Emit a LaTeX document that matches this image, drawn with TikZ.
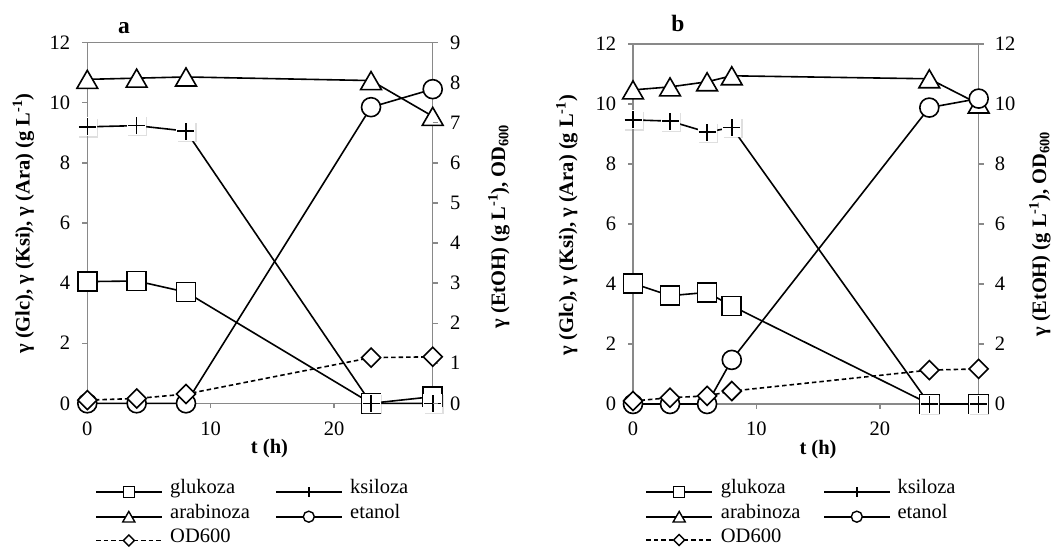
\documentclass[tikz,border=0pt]{standalone}
\usepackage{fontspec}
\setmainfont{Liberation Serif}
\usetikzlibrary{shapes.geometric,shadows}
\definecolor{axgray}{RGB}{137,137,137}
\newcommand{\bigfont}{\fontsize{20.5}{24}\selectfont}
\tikzset{
  ax/.style={draw=axgray, line width=1.3pt},
  ser/.style={line width=1.6pt, line join=round},
  odl/.style={ser, dash pattern=on 4.5pt off 3pt},
  mk/.style={draw=black, fill=white, line width=1.6pt, inner sep=0pt, outer sep=0pt},
  msq/.style={mk, rectangle, minimum size=19pt},
  mci/.style={mk, circle, minimum size=19pt},
  mdi/.style={mk, diamond, minimum size=19pt},
  mtr/.style={mk, regular polygon, regular polygon sides=3, minimum size=24pt, yshift=-3pt},
  lsq/.style={mk, rectangle, minimum size=11pt, line width=1.4pt},
  lci/.style={mk, circle, minimum size=11pt, line width=1.4pt},
  ldi/.style={mk, diamond, minimum size=11pt, line width=1.4pt},
  ltr/.style={mk, regular polygon, regular polygon sides=3, minimum size=14pt, yshift=-1.75pt, line width=1.4pt},
  pics/plusm/.style={code={
    \fill[white, drop shadow={shadow xshift=1.3pt, shadow yshift=-1.3pt, opacity=0.25}] (-9.5pt,-9.5pt) rectangle (9.5pt,9.5pt);
    \draw[line width=1.6pt] (-8.5pt,0pt)--(8.5pt,0pt) (0pt,-8.5pt)--(0pt,8.5pt);}},
  pics/lplus/.style={code={
    \draw[line width=1.9pt] (-5pt,0pt)--(5pt,0pt) (0pt,-5pt)--(0pt,5pt);}},
  tl/.style={inner sep=0pt, font=\bigfont},
  lt/.style={inner sep=0pt, anchor=mid west, font=\bigfont},
  bl/.style={inner sep=0pt, font=\bigfont\bfseries},
  pl/.style={inner sep=0pt, font=\fontsize{23.5}{26}\selectfont\bfseries},
  albl/.style={inner sep=0pt, font=\bigfont\bfseries, rotate=90},
}
\begin{document}
\begin{tikzpicture}[x=1pt, y=-1pt]
\useasboundingbox[fill=white] (0,0) rectangle (1058,548);

% ================= Panel a =================
\node[pl, anchor=base] (la) at (124,33.3) {a};
\begin{scope}[shift={(87.3,403.3)}, x=12.336pt, y=30.05pt]
  \draw[ax] (0,0) rectangle (28,12);
  \foreach \v in {0,2,...,12} {
    \draw[ax] (0,\v) -- ++(-5pt,0pt);
    \node[tl, anchor=east, xshift=-17pt] at (0,\v) {\v};
  }
  \foreach \t in {0,10,20} {
    \draw[ax] (\t,0) -- ++(0pt,-5pt);
    \node[tl, yshift=-25pt] at (\t,0) {\t};
  }
  % glukoza
  \draw[ser] (0,4.05) -- (4,4.07) -- (8,3.7) -- (23,0) -- (28,0.22);
  \foreach \a/\b in {0/4.05,4/4.07,8/3.7,23/0,28/0.22} \node[msq] at (\a,\b) {};
  % ksiloza
  \draw[ser] (0,9.2) -- (4,9.24) -- (8,9.06) -- (23,0) -- (28,0);
  \foreach \a/\b in {0/9.2,4/9.24,8/9.06,23/0,28/0} \pic at (\a,\b) {plusm};
  % arabinoza
  \draw[ser] (0,10.78) -- (4,10.82) -- (8,10.86) -- (23,10.74) -- (28,9.55);
  \foreach \a/\b in {0/10.78,4/10.82,8/10.86,23/10.74,28/9.55} \node[mtr] at (\a,\b) {};
\end{scope}
\begin{scope}[shift={(87.3,403.3)}, x=12.336pt, y=40.07pt]
  \foreach \v in {0,...,9} {
    \draw[ax] (28,\v) -- ++(5pt,0pt);
    \node[tl, anchor=west, xshift=17.3pt] at (28,\v) {\v};
  }
  % etanol
  \draw[ser] (0,0) -- (4,0) -- (8,0) -- (23,7.39) -- (28,7.84);
  \foreach \a/\b in {0/0,4/0,8/0,23/7.39,28/7.84} \node[mci] at (\a,\b) {};
  % OD600
  \draw[odl] (0,0.08) -- (4,0.12) -- (8,0.23) -- (23,1.14) -- (28,1.16);
  \foreach \a/\b in {0/0.08,4/0.12,8/0.23,23/1.14,28/1.16} \node[mdi] at (\a,\b) {};
\end{scope}
\node[bl, anchor=base] (ta) at (269.5,453) {t (h)};
\node[albl] (ya) at (23.5,223.5) {γ (Glc), γ (Ksi), γ (Ara) (g L\textsuperscript{-1})};
\node[albl] (y2a) at (499,226.5) {γ (EtOH) (g L\textsuperscript{-1}), OD\textsubscript{600}};

% legend a
\draw[ser] (96,491.7) -- (161.7,491.7);   \node[lsq] (lga1) at (128.8,491.7) {};
\node[lt] (tga1) at (170,491.7) {glukoza};
\draw[ser] (276,491.7) -- (341.7,491.7);  \pic at (308.8,491.7) {lplus};
\node[lt] (tga2) at (350,491.7) {ksiloza};
\draw[ser] (96,516.7) -- (161.7,516.7);   \node[ltr] (lga3) at (128.8,516.7) {};
\node[lt] (tga3) at (170,516.7) {arabinoza};
\draw[ser] (276,516.7) -- (341.7,516.7);  \node[lci] (lga4) at (308.8,516.7) {};
\node[lt] (tga4) at (350,516.7) {etanol};
\draw[odl] (96,540.5) -- (161.7,540.5);   \node[ldi] (lga5) at (128.8,540.5) {};
\node[lt] (tga5) at (170,540.5) {OD600};

% ================= Panel b =================
\node[pl, anchor=base] (lb) at (678,31.7) {b};
\begin{scope}[shift={(633,404)}, x=12.346pt, y=30pt]
  \draw[ax] (0,0) rectangle (28,12);
  \foreach \v in {0,2,...,12} {
    \draw[ax] (0,\v) -- ++(-5pt,0pt);
    \node[tl, anchor=east, xshift=-16.7pt] at (0,\v) {\v};
    \draw[ax] (28,\v) -- ++(5pt,0pt);
    \node[tl, anchor=west, xshift=16pt] at (28,\v) {\v};
  }
  \foreach \t in {0,10,20} {
    \draw[ax] (\t,0) -- ++(0pt,-5pt);
    \node[tl, yshift=-25pt] at (\t,0) {\t};
  }
  % glukoza
  \draw[ser] (0,4.02) -- (3,3.61) -- (6,3.72) -- (8,3.27) -- (24,0) -- (28,0);
  \foreach \a/\b in {0/4.02,3/3.61,6/3.72,8/3.27,24/0,28/0} \node[msq] at (\a,\b) {};
  % ksiloza
  \draw[ser] (0,9.47) -- (3,9.43) -- (6,9.06) -- (8,9.22) -- (24,0) -- (28,0);
  \foreach \a/\b in {0/9.47,3/9.43,6/9.06,8/9.22,24/0,28/0} \pic at (\a,\b) {plusm};
  % arabinoza
  \draw[ser] (0,10.47) -- (3,10.57) -- (6,10.74) -- (8,10.94) -- (24,10.84) -- (28,10.0);
  \foreach \a/\b in {0/10.47,3/10.57,6/10.74,8/10.94,24/10.84,28/10.0} \node[mtr] at (\a,\b) {};
  % etanol
  \draw[ser] (0,0) -- (3,0) -- (6,0) -- (8,1.47) -- (24,9.88) -- (28,10.18);
  \foreach \a/\b in {0/0,3/0,6/0,8/1.47,24/9.88,28/10.18} \node[mci] at (\a,\b) {};
  % OD600
  \draw[odl] (0,0.1) -- (3,0.21) -- (6,0.27) -- (8,0.43) -- (24,1.13) -- (28,1.17);
  \foreach \a/\b in {0/0.1,3/0.21,6/0.27,8/0.43,24/1.13,28/1.17} \node[mdi] at (\a,\b) {};
\end{scope}
\node[bl, anchor=base] (tb) at (818,454) {t (h)};
\node[albl] (yb) at (567,225) {γ (Glc), γ (Ksi), γ (Ara) (g L\textsuperscript{-1})};
\node[albl] (y2b) at (1040,234) {γ (EtOH) (g L\textsuperscript{-1}), OD\textsubscript{600}};

% legend b
\draw[ser] (646.3,491.7) -- (712,491.7);   \node[lsq] (lgb1) at (679.2,491.7) {};
\node[lt] (tgb1) at (720.7,491.7) {glukoza};
\draw[ser] (824,491.7) -- (889.7,491.7);   \pic at (856.8,491.7) {lplus};
\node[lt] (tgb2) at (897.3,491.7) {ksiloza};
\draw[ser] (646.3,516.7) -- (712,516.7);   \node[ltr] (lgb3) at (679.2,516.7) {};
\node[lt] (tgb3) at (720.7,516.7) {arabinoza};
\draw[ser] (824,516.7) -- (889.7,516.7);   \node[lci] (lgb4) at (856.8,516.7) {};
\node[lt] (tgb4) at (897.3,516.7) {etanol};
\draw[odl] (646.3,540) -- (712,540);       \node[ldi] (lgb5) at (679.2,540) {};
\node[lt] (tgb5) at (720.7,540) {OD600};
\end{tikzpicture}
\end{document}
